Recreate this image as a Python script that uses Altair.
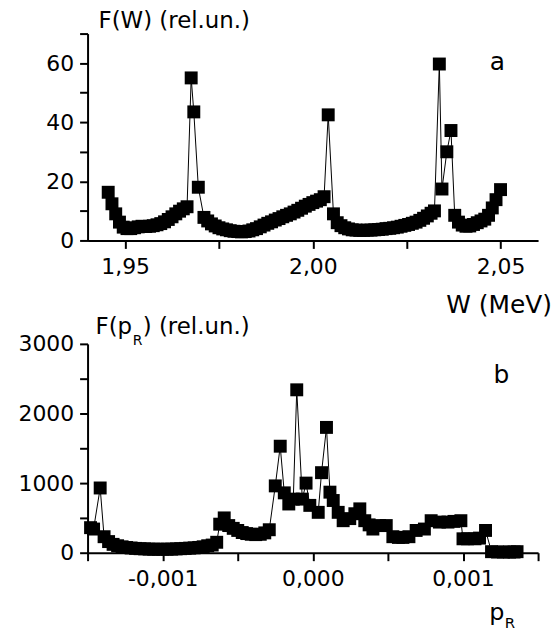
import altair as alt
import pandas as pd

# ---- panel a: F(W) ----
W = [1.9455, 1.9465, 1.9475, 1.9485, 1.9495, 1.9505, 1.9515, 1.9525, 1.9535, 1.9545,
     1.9555, 1.9565, 1.9575, 1.9585, 1.9595, 1.9605, 1.9615, 1.9625, 1.9635, 1.9645,
     1.9655, 1.9665, 1.9676, 1.9683, 1.9695, 1.9710, 1.9720, 1.9730, 1.9740, 1.9750,
     1.9760, 1.9770, 1.9780, 1.9790, 1.9800, 1.9810, 1.9820, 1.9830, 1.9840, 1.9850,
     1.9860, 1.9870, 1.9880, 1.9890, 1.9900, 1.9910, 1.9920, 1.9930, 1.9940, 1.9950,
     1.9960, 1.9970, 1.9980, 1.9990, 2.0000, 2.0010, 2.0020, 2.0030, 2.0041, 2.0055,
     2.0065, 2.0075, 2.0085, 2.0095, 2.0105, 2.0115, 2.0125, 2.0135, 2.0145, 2.0155,
     2.0165, 2.0175, 2.0185, 2.0195, 2.0205, 2.0215, 2.0225, 2.0235, 2.0245, 2.0255,
     2.0265, 2.0275, 2.0285, 2.0295, 2.0305, 2.0315, 2.0324, 2.0337, 2.0344, 2.0357,
     2.0368, 2.0378, 2.0388, 2.0398, 2.0408, 2.0418, 2.0428, 2.0438, 2.0448, 2.0458,
     2.0468, 2.0478, 2.0488, 2.0500]
FW = [16.3, 12.4, 9.0, 6.2, 4.5, 4.0, 4.0, 4.3, 4.6, 4.8,
      4.7, 4.8, 5.0, 5.3, 5.7, 6.3, 7.1, 8.0, 9.0, 9.9,
      10.7, 11.4, 55.0, 43.5, 18.0, 7.8, 6.6, 5.6, 4.9, 4.3,
      3.9, 3.6, 3.3, 3.1, 3.0, 2.9, 3.0, 3.2, 3.6, 4.0,
      4.6, 5.2, 5.8, 6.3, 6.9, 7.4, 8.0, 8.5, 9.0, 9.6,
      10.2, 10.9, 11.6, 12.2, 12.8, 13.3, 13.8, 14.8, 42.5, 9.0,
      6.0, 5.0, 4.3, 3.9, 3.6, 3.5, 3.4, 3.4, 3.5, 3.5,
      3.6, 3.7, 3.8, 4.0, 4.1, 4.3, 4.5, 4.8, 5.1, 5.4,
      5.8, 6.2, 6.8, 7.5, 8.3, 9.2, 10.0, 59.7, 17.4, 30.0,
      37.2, 8.5, 6.2, 5.2, 4.8, 4.9, 5.4, 6.0, 6.6, 7.2,
      8.5, 11.0, 13.8, 17.2]

# ---- panel b: F(p_R) ----
P = [-0.00148, -0.00146, -0.001416, -0.00139, -0.00136, -0.00133, -0.00130, -0.00127,
     -0.00124, -0.00121, -0.00118, -0.00115, -0.00112, -0.00109, -0.00106, -0.00103,
     -0.00100, -0.00097, -0.00094, -0.00091, -0.00088, -0.00085, -0.00082, -0.00079,
     -0.00076, -0.00073, -0.00070, -0.00067, -0.00064, -0.00062, -0.00059, -0.00056,
     -0.00053, -0.00050, -0.00047, -0.00044, -0.00041, -0.00038, -0.00035, -0.00032,
     -0.00029, -0.00025, -0.000217, -0.00019, -0.00016, -0.00013, -0.000107, -0.00007,
     -0.000045, -0.00002, 0.000036, 0.000058, 0.000091, 0.000114, 0.000136, 0.000169,
     0.000202, 0.000246, 0.000280, 0.000313, 0.000346, 0.000375, 0.000400, 0.000445,
     0.000489, 0.000533, 0.000570, 0.000600, 0.000640, 0.000688, 0.000743, 0.000788,
     0.000843, 0.000900, 0.000940, 0.000986, 0.001000, 0.001030, 0.001080, 0.001110,
     0.001150, 0.001190, 0.001230, 0.001270, 0.001310, 0.001340, 0.001360]
FP = [360, 340, 930, 230, 160, 120, 100, 85,
      75, 68, 62, 58, 55, 52, 50, 50,
      50, 50, 52, 55, 58, 62, 66, 70,
      76, 85, 100, 110, 150, 410, 500, 390,
      350, 320, 290, 275, 265, 260, 265, 285,
      330, 960, 1530, 860, 700, 770, 2340, 770,
      1000, 680, 580, 1150, 1800, 870, 750, 580,
      460, 490, 560, 630, 460, 400, 340, 390,
      390, 230, 220, 220, 230, 320, 340, 460,
      440, 440, 450, 460, 200, 200, 200, 210,
      320, 15, 10, 10, 10, 10, 15]

FONT = "DejaVu Sans"

top_df = pd.DataFrame({"W": W, "F": FW})
bot_df = pd.DataFrame({"p": P, "F": FP})


def label(text, x, y, size, align="left"):
    return alt.Chart(pd.DataFrame({"t": [text]})).mark_text(
        align=align, baseline="alphabetic", font=FONT, fontSize=size, color="black"
    ).encode(text="t:N", x=alt.value(x), y=alt.value(y))


x_top = alt.X(
    "W:Q",
    scale=alt.Scale(domain=[1.94, 2.06], nice=False, zero=False),
    axis=alt.Axis(
        values=[1.95, 1.975, 2.0, 2.025, 2.05],
        labelExpr="(abs(datum.value-1.975)<0.001 || abs(datum.value-2.025)<0.001) ? '' : replace(format(datum.value, '.2f'), '.', ',')",
        title=None,
    ),
)
y_top = alt.Y(
    "F:Q",
    scale=alt.Scale(domain=[0, 70], nice=False),
    axis=alt.Axis(
        values=[0, 10, 20, 30, 40, 50, 60, 70],
        labelExpr="(datum.value % 20 == 0 && datum.value < 70) ? format(datum.value, 'd') : ''",
        title=None,
    ),
)
base_top = alt.Chart(top_df).encode(x=x_top, y=y_top)
top = alt.layer(
    base_top.mark_line(color="black", strokeWidth=1),
    base_top.mark_square(size=169, color="black", opacity=1),
    label("F(W) (rel.un.)", 11, -6, 23),
    label("a", 412, 37, 25, "center"),
    label("W (MeV)", 467, 281, 25, "right"),
).properties(width=453, height=208)

x_bot = alt.X(
    "p:Q",
    scale=alt.Scale(domain=[-0.0015, 0.0015], nice=False, zero=False),
    axis=alt.Axis(
        values=[-0.0015, -0.001, -0.0005, 0, 0.0005, 0.001, 0.0015],
        labelExpr="(abs(datum.value) > 0.0012 || (abs(datum.value) > 0.0002 && abs(datum.value) < 0.0008)) ? '' : (datum.value < -0.0002 ? '-0,001' : (datum.value > 0.0002 ? '0,001' : '0,000'))",
        title=None,
    ),
)
y_bot = alt.Y(
    "F:Q",
    scale=alt.Scale(domain=[0, 3000], nice=False),
    axis=alt.Axis(
        values=[0, 500, 1000, 1500, 2000, 2500, 3000],
        labelExpr="(datum.value % 1000 == 0) ? format(datum.value, 'd') : ''",
        title=None,
    ),
)
base_bot = alt.Chart(bot_df).encode(x=x_bot, y=y_bot)
bottom = alt.layer(
    base_bot.mark_line(color="black", strokeWidth=1),
    base_bot.mark_square(size=169, color="black", opacity=1),
    label("F(p", 8, -10, 23),
    label("R", 45.5, 1, 14),
    label(") (rel.un.)", 55.5, -10, 23),
    label("b", 416, 39, 25, "center"),
    label("p", 404, 278, 24),
    label("R", 419.5, 286, 15),
).properties(width=453, height=210)

chart = alt.vconcat(top, bottom, spacing=104, bounds="flush").properties(
    padding={"left": 10, "top": 0, "right": 0, "bottom": 0}
).configure_view(strokeWidth=0).configure_axis(
    domainColor="black", domainWidth=2, tickColor="black", tickWidth=2, tickSize=8,
    labelFont=FONT, labelFontSize=22, labelColor="black", grid=False, labelFlush=False,
).configure_axisX(labelPadding=8).configure_axisY(labelPadding=6)

chart.save("out.html", embed_options={"renderer": "svg", "actions": False})
